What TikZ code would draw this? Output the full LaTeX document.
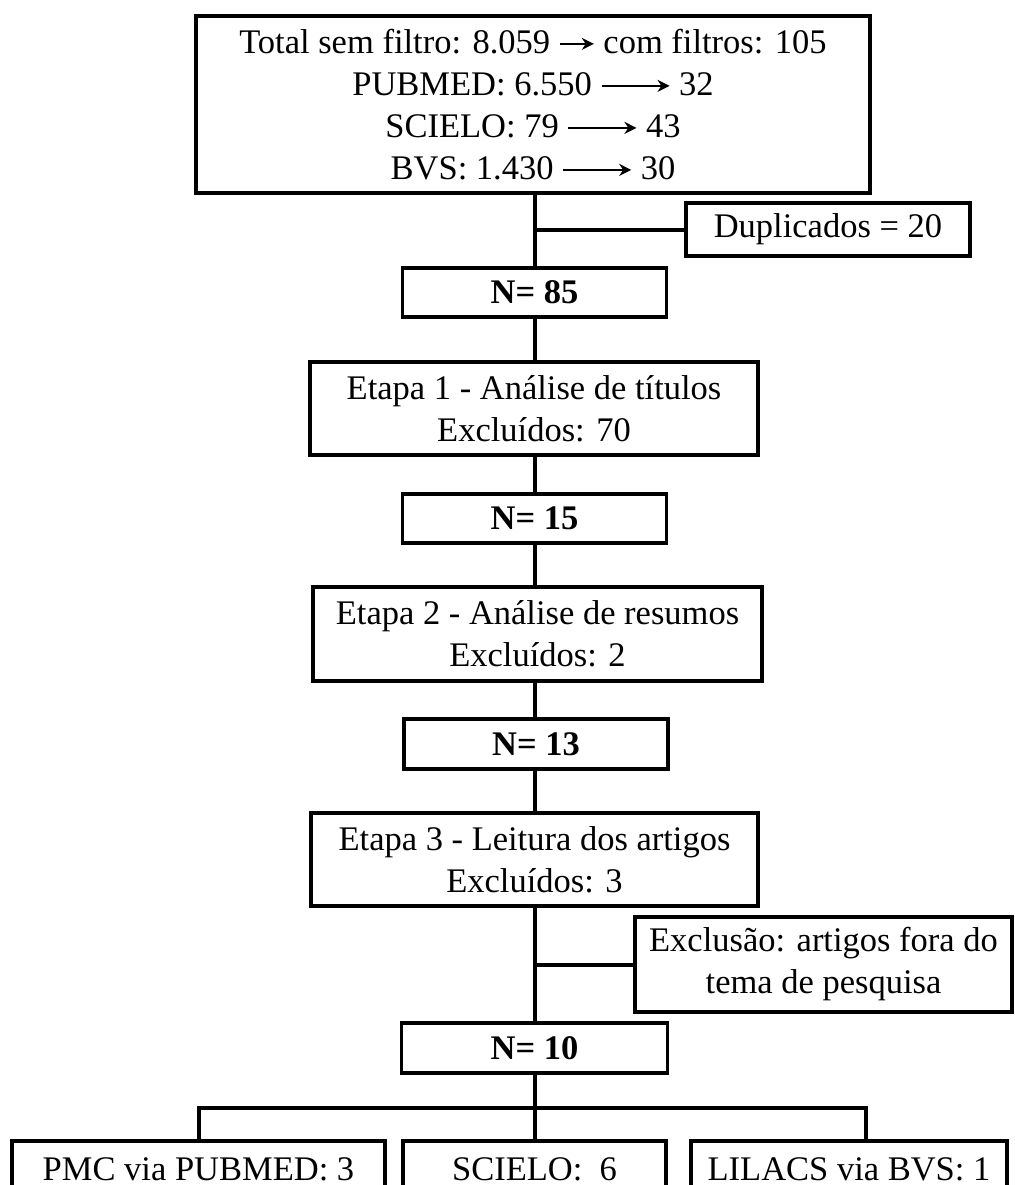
\documentclass[tikz,border=0pt]{standalone}
\usepackage{fontspec}
\setmainfont{Liberation Serif}
\usepackage{tikz}
\usetikzlibrary{arrows.meta}

\newcommand{\seta}[1]{\tikz[baseline=-0.6ex]\draw[line width=1pt,-{Stealth[length=6pt,width=6pt]}] (0pt,0pt) -- (#1,0pt);}

\begin{document}
\begin{tikzpicture}[x=0.5pt, y=-0.5pt,
        caixa/.style={draw, line width=1.75pt, inner sep=0pt, align=center, font=\fontsize{17.25}{21}\selectfont},
        liga/.style={line width=2pt}]
        \useasboundingbox (0,0) rectangle (1014,1185);
        \clip (0,0) rectangle (1014,1185);
        % Draw the boxes
        \node[caixa, minimum width=337pt, minimum height=88.5pt] (total) at (533,104.5)
            {Total sem filtro: 8.059 \seta{17pt} com filtros: 105\\
             PUBMED: 6.550 \seta{34pt} 32\\
             SCIELO: 79 \seta{34pt} 43\\
             BVS: 1.430 \seta{34pt} 30};
        \node[caixa, minimum width=142pt, minimum height=26.5pt] (dupl) at (828,229.5) {Duplicados = 20};
        \node[caixa, minimum width=132pt, minimum height=24.5pt] (n85) at (534.5,292.5) {\textbf{N= 85}};
        \node[caixa, minimum width=224pt, minimum height=46.5pt] (et1) at (534,408.5)
            {Etapa 1 - Análise de títulos\\ Excluídos: 70};
        \node[caixa, minimum width=132pt, minimum height=24.5pt] (n15) at (534.5,518.5) {\textbf{N= 15}};
        \node[caixa, minimum width=224.5pt, minimum height=47pt] (et2) at (537.5,634)
            {Etapa 2 - Análise de resumos\\ Excluídos: 2};
        \node[caixa, minimum width=132pt, minimum height=25pt] (n13) at (536,744) {\textbf{N= 13}};
        \node[caixa, minimum width=223.5pt, minimum height=46.5pt] (et3) at (534.5,859.5)
            {Etapa 3 - Leitura dos artigos\\ Excluídos: 3};
        \node[caixa, minimum width=188.5pt, minimum height=47.5pt] (excl) at (823.5,964.5)
            {Exclusão: artigos fora do\\ tema de pesquisa};
        \node[caixa, minimum width=133pt, minimum height=25pt] (n10) at (534.5,1048) {\textbf{N= 10}};
        \node[caixa, minimum width=186.5pt, minimum height=28.5pt, anchor=north] (pmc) at (198.5,1139) {PMC via PUBMED: 3};
        \node[caixa, minimum width=131.5pt, minimum height=28.5pt, anchor=north] (sci) at (534.5,1139) {SCIELO:\ \ 6};
        \node[caixa, minimum width=158pt, minimum height=28.5pt, anchor=north] (lil) at (849,1139) {LILACS via BVS: 1};
        % Draw the connectors
        \draw[liga] (total.south -| n85) -- (n85.north);
        \draw[liga] (dupl.west) -- (dupl.west -| n85);
        \draw[liga] (n85.south) -- (n85.south |- et1.north);
        \draw[liga] (et1.south -| n15) -- (n15.north);
        \draw[liga] (n15.south) -- (n15.south |- et2.north);
        \draw[liga] (et2.south -| n15) -- (n13.north -| n15);
        \draw[liga] (n13.south -| n15) -- (et3.north -| n15);
        \draw[liga] (et3.south -| n10) -- (n10.north);
        \draw[liga] (excl.west) -- (excl.west -| n10);
        \draw[liga] (n10.south) -- (sci.north);
        \coordinate (bd) at (866,1108);
        \draw[liga] (pmc.north) |- (bd) -- (bd |- lil.north);
\end{tikzpicture}
\end{document}
